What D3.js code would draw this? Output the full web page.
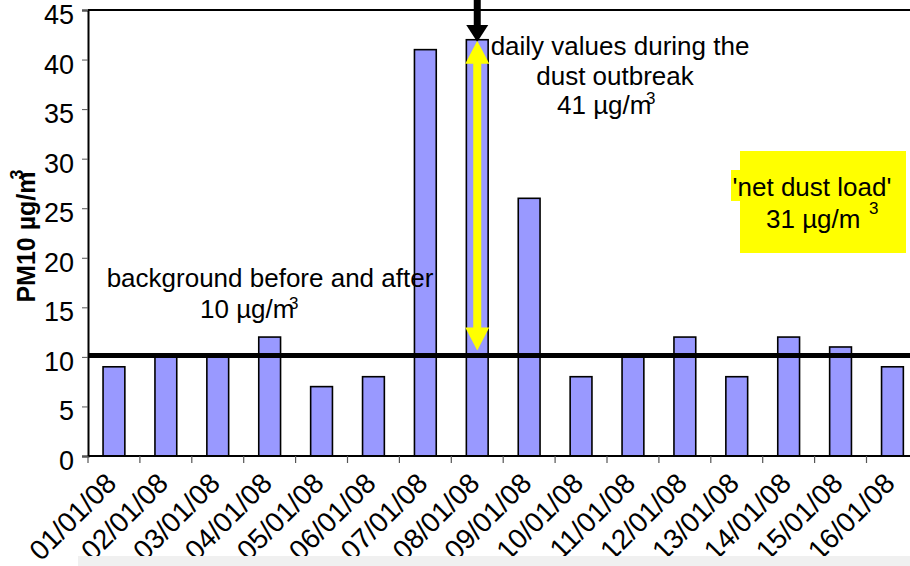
<!DOCTYPE html>
<html>
<head>
<meta charset="utf-8">
<script src="https://cdn.jsdelivr.net/npm/d3@7"></script>
<style>
  body { margin: 0; background: #fff; }
  svg { display: block; font-family: "Liberation Sans", Arial, sans-serif; }
</style>
</head>
<body>
<svg id="chart" width="910" height="566"></svg>
<script>
const dates = ["01/01/08","02/01/08","03/01/08","04/01/08","05/01/08","06/01/08","07/01/08","08/01/08",
               "09/01/08","10/01/08","11/01/08","12/01/08","13/01/08","14/01/08","15/01/08","16/01/08"];
const pm10 = [9,10,10,12,7,8,41,42,26,8,10,12,8,12,11,9];
const yTicks = [0,5,10,15,20,25,30,35,40,45];
const background = 10.15;
const outbreakDay = "08/01/08";

const svg = d3.select("#chart");
const mLeft = 88, mTop = 10, mBottom = 456, bandW = 51.9;
const x = d3.scaleBand().domain(dates).range([mLeft, mLeft + bandW * dates.length])
  .paddingInner(0.58).paddingOuter(0.29);
const xb = d3.scaleBand().domain(dates).range([mLeft, mLeft + bandW * dates.length]).padding(0);
const y = d3.scaleLinear().domain([0, 45]).range([mBottom, mTop]);

// bars
svg.append("g").selectAll("rect").data(dates).join("rect")
  .attr("x", d => x(d)).attr("width", x.bandwidth())
  .attr("y", (d, i) => y(pm10[i])).attr("height", (d, i) => y(0) - y(pm10[i]))
  .attr("fill", "#9999ff").attr("stroke", "#000").attr("stroke-width", 1.6);

// y axis
const ya = svg.append("g").attr("transform", `translate(${mLeft},0)`)
  .call(d3.axisLeft(y).tickValues(yTicks).tickSize(6).tickPadding(8));
ya.select(".domain").attr("stroke", "#000").attr("stroke-width", 2);
ya.selectAll(".tick line").attr("stroke", "#555");
ya.selectAll(".tick text").attr("font-size", 27).attr("font-family", "Liberation Sans, Arial, sans-serif").attr("fill", "#000").attr("dy", "0.5em");

// top border
svg.append("line").attr("x1", mLeft).attr("x2", 910).attr("y1", y(45)).attr("y2", y(45))
  .attr("stroke", "#000").attr("stroke-width", 2);

// x axis
const xa = svg.append("g").attr("transform", `translate(0,${mBottom})`)
  .call(d3.axisBottom(xb).tickSize(0).tickFormat(""));
xa.select(".domain").remove();
svg.append("line").attr("x1", mLeft).attr("x2", 910).attr("y1", mBottom).attr("y2", mBottom)
  .attr("stroke", "#000").attr("stroke-width", 2);
svg.append("g").selectAll("line").data(dates).join("line")
  .attr("x1", d => xb(d)).attr("x2", d => xb(d)).attr("y1", mBottom).attr("y2", mBottom + 7)
  .attr("stroke", "#555").attr("stroke-width", 1.2);
svg.append("g").selectAll("text").data(dates).join("text")
  .attr("transform", d => `translate(${x(d) + x.bandwidth() / 2 + 4},${mBottom + 29}) rotate(-45)`)
  .attr("text-anchor", "end")
  .attr("font-size", 28).attr("fill", "#000").text(d => d);

// background line
svg.append("line").attr("x1", mLeft).attr("x2", 910).attr("y1", y(background)).attr("y2", y(background))
  .attr("stroke", "#000").attr("stroke-width", 5);

// black arrow from top
const ax = x(outbreakDay) + x.bandwidth() / 2;
svg.append("rect").attr("x", ax - 3.5).attr("y", 0).attr("width", 7).attr("height", 26).attr("fill", "#000");
svg.append("path").attr("d", `M${ax - 11},25 L${ax + 11},25 L${ax},42 Z`).attr("fill", "#000");

// yellow double arrow
const yTop = y(pm10[dates.indexOf(outbreakDay)]) + 1, yBot = y(background) - 5;
svg.append("rect").attr("x", ax - 4).attr("y", yTop + 20).attr("width", 8).attr("height", yBot - yTop - 40).attr("fill", "#ffff00");
svg.append("path").attr("d", `M${ax},${yTop} L${ax + 12},${yTop + 23} L${ax - 12},${yTop + 23} Z`).attr("fill", "#ffff00");
svg.append("path").attr("d", `M${ax},${yBot} L${ax + 12},${yBot - 23} L${ax - 12},${yBot - 23} Z`).attr("fill", "#ffff00");

// yellow box
svg.append("rect").attr("x", 740).attr("y", 151).attr("width", 166).attr("height", 102).attr("fill", "#ffff00");
svg.append("rect").attr("x", 731).attr("y", 170).attr("width", 12).attr("height", 31).attr("fill", "#ffff00");

// annotations
function ann(tx, ty, str, anchor) {
  return svg.append("text").attr("x", tx).attr("y", ty).attr("font-size", 26)
    .attr("text-anchor", anchor || "middle").attr("fill", "#000").text(str);
}
function sup(tx, ty) {
  svg.append("text").attr("x", tx).attr("y", ty).attr("font-size", 17).attr("fill", "#000").text("3");
}
ann(620, 55, "daily values during the");
ann(615, 85, "dust outbreak");
ann(557, 114, "41 µg/m", "start");
sup(646, 104);
ann(270, 287, "background before and after");
ann(200, 318, "10 µg/m", "start");
sup(289, 309);
ann(812, 196, "'net dust load'");
ann(766, 228, "31 µg/m", "start");
sup(869, 214);

// y label
const yl = svg.append("text").attr("transform", "translate(35,236) rotate(-90)")
  .attr("text-anchor", "middle").attr("font-size", 25).attr("font-weight", "bold").attr("fill", "#000");
yl.append("tspan").text("PM10 µg/m");
yl.append("tspan").attr("dx", -8).attr("dy", -12).attr("font-size", 18).text("3");

// bottom grey strip
svg.append("rect").attr("x", 78).attr("y", 556).attr("width", 832).attr("height", 10).attr("fill", "#f0f0f0");
</script>
</body>
</html>
